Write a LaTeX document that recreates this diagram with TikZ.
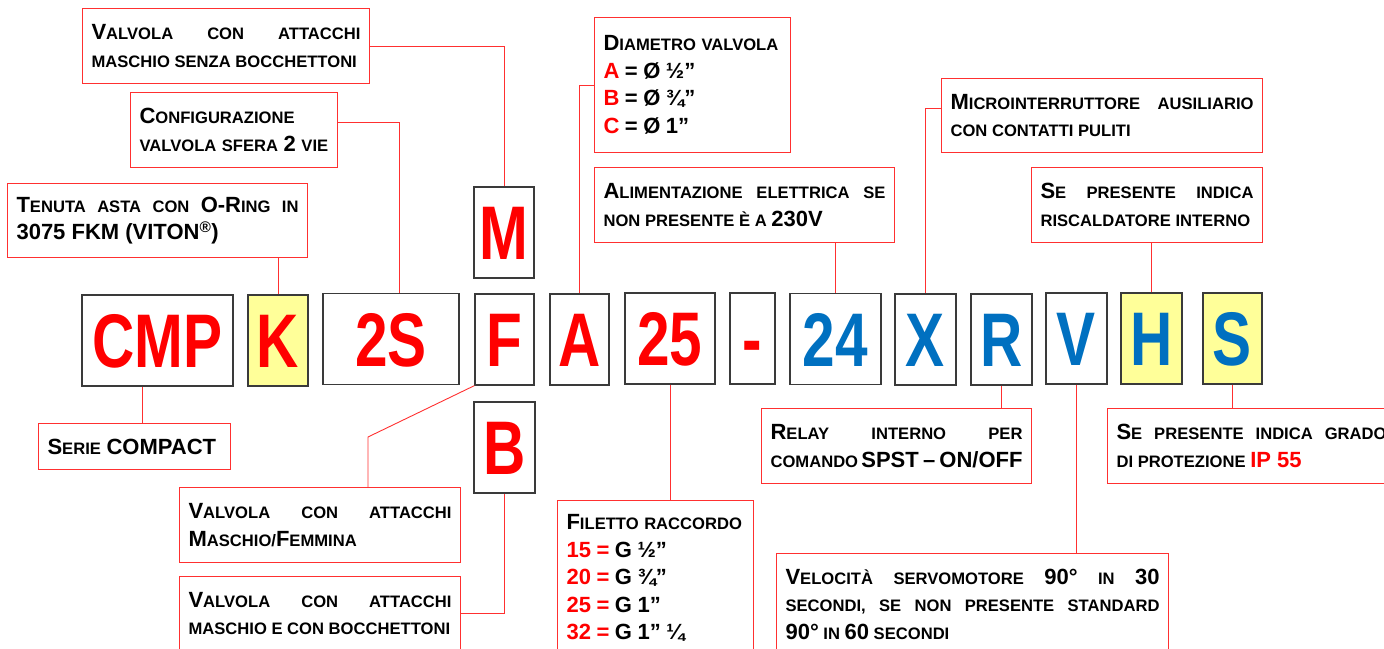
\documentclass[tikz,border=0pt]{standalone}
\usepackage{fontspec}
\setmainfont{Liberation Sans}
\newfontfamily\narrowfont[FakeStretch=0.77]{Liberation Sans}
\usetikzlibrary{calc}
\definecolor{codered}{HTML}{FF0000}
\definecolor{codeblue}{HTML}{0070C0}
\definecolor{hlyellow}{HTML}{FFFF99}
\definecolor{boxgray}{HTML}{3A3A3A}
\definecolor{notered}{HTML}{FF3030}
\newcommand{\bc}[1]{{\fontsize{22}{27.5}\selectfont #1}}
\newcommand{\rd}[1]{\textcolor{codered}{#1}}
\hyphenpenalty=10000
\exhyphenpenalty=10000

\begin{document}
\begin{tikzpicture}[
  x=1pt, y=-1pt,
  lbox/.style={draw=boxgray, line width=1.3pt, minimum width=#1,
    minimum height=91pt, inner sep=0pt, text height=54pt, text depth=0pt,
    font=\narrowfont\bfseries\fontsize{76}{76}\selectfont},
  ybox/.style={lbox=#1, fill=hlyellow},
  note/.style 2 args={draw=notered, line width=1.1pt, anchor=north west,
    inner xsep=9pt, inner ysep=0pt, text width=#1, minimum height=#2,
    align=justify, font=\bfseries\fontsize{16.6}{27.5}\selectfont},
  link/.style={draw=notered, line width=0.9pt},
]

\useasboundingbox (0,0) rectangle (1384,648);
\clip (0,0) rectangle (1384,648);

% === Code letters (main row) ===
\node[lbox=151pt, text=codered] (cmp)   at (157.5,340.5) {CMP};
\node[ybox=60pt,  text=codered] (ring)  at (278,340.5)   {K};
\node[lbox=136pt, text=codered] (conf)  at (391,339)     {2S};
\node[lbox=59pt,  text=codered] (attF)  at (504.5,339.5) {F};
\node[lbox=59pt,  text=codered] (diaA)  at (579.5,339.5) {A};
\node[lbox=90pt,  text=codered] (fil)   at (670,338.5)   {25};
\node[lbox=45pt,  text=codered] (dash)  at (752.5,338.5) {-};
\node[lbox=91pt,  text=codeblue] (volt) at (835.5,339)   {24};
\node[lbox=61pt,  text=codeblue] (micX) at (925.5,339.5) {X};
\node[lbox=61pt,  text=codeblue] (relR) at (1001.5,339.5) {R};
\node[lbox=61pt,  text=codeblue] (velV) at (1076.5,338.5) {V};
\node[ybox=61pt,  text=codeblue] (heatH) at (1151.5,338.5) {H};
\node[ybox=59pt,  text=codeblue] (ipS)  at (1232.5,338.5) {S};

% alternatives for F
\node[lbox=60pt, text=codered] (attM) at (504,232.5) {M};
\node[lbox=61pt, text=codered] (attB) at (504.5,447.5) {B};

% === Notes above ===
\node[note={269pt}{75pt}] (maschio) at (82,8)
  {\bc{V}ALVOLA CON ATTACCHI\linebreak MASCHIO SENZA BOCCHETTONI};
\node[note={189pt}{75pt}, align=left] (config) at (130,92)
  {\bc{C}ONFIGURAZIONE\\ VALVOLA SFERA \bc{2} VIE};
\node[note={282pt}{74pt}] (tenuta) at (7,183)
  {\bc{T}ENUTA ASTA CON \bc{O-R}ING IN\linebreak \bc{3075 FKM (VITON\textsuperscript{®})}};
\node[note={178pt}{135pt}, align=left] (diam) at (594,17)
  {\bc{D}IAMETRO VALVOLA\\ \bc{\rd{A} = Ø ½”}\\ \bc{\rd{B} = Ø ¾”}\\ \bc{\rd{C} = Ø 1”}};
\node[note={282pt}{75pt}] (alim) at (594,167)
  {\bc{A}LIMENTAZIONE ELETTRICA SE\linebreak NON PRESENTE È A \bc{230V}};
\node[note={303pt}{74pt}] (micro) at (941,78)
  {\bc{M}ICROINTERRUTTORE AUSILIARIO\linebreak CON CONTATTI PULITI};
\node[note={213pt}{75pt}] (risc) at (1031,167)
  {\bc{S}E PRESENTE INDICA\linebreak RISCALDATORE INTERNO};

% === Notes below ===
\node[note={174pt}{46pt}, align=left] (serie) at (38,423)
  {\bc{S}ERIE \bc{COMPACT}};
\node[note={263pt}{75pt}] (mf) at (179,487)
  {\bc{V}ALVOLA CON ATTACCHI\linebreak \bc{M}ASCHIO/\bc{F}EMMINA};
\node[note={263pt}{74pt}] (bocch) at (179,576)
  {\bc{V}ALVOLA CON ATTACCHI\linebreak MASCHIO E CON BOCCHETTONI};
\node[note={178pt}{155pt}, align=left] (filetto) at (557,500)
  {\bc{F}ILETTO RACCORDO\\ \bc{\rd{15 =} G ½”}\\ \bc{\rd{20 =} G ¾”}\\
   \bc{\rd{25 =} G 1”}\\ \bc{\rd{32 =} G 1” ¼}};
\node[note={252pt}{75pt}] (relay) at (761,408)
  {\bc{R}ELAY INTERNO PER\linebreak COMANDO \bc{SPST – ON/OFF}};
\node[note={270pt}{75pt}] (grado) at (1107,408)
  {\bc{S}E PRESENTE INDICA GRADO\linebreak DI PROTEZIONE \bc{\rd{IP 55}}};
\node[note={374pt}{101pt}] (velo) at (776,553)
  {\bc{V}ELOCITÀ SERVOMOTORE \bc{90°} IN \bc{30}\linebreak
   SECONDI, SE NON PRESENTE STANDARD\linebreak \bc{90°} IN \bc{60} SECONDI};

% === Connectors ===
\draw[link] (maschio.east) -| (attM.north);
\draw[link] ([yshift=7.5pt]config.east) -| ([xshift=8pt]conf.north);
\draw[link] (ring.north) -- (ring.north |- tenuta.south);
\draw[link] (diam.west) -| (diaA.north);
\draw[link] (volt.north) -- (volt.north |- alim.south);
\draw[link] ([yshift=7pt]micro.west) -| (micX.north);
\draw[link] (heatH.north) -- (heatH.north |- risc.south);

\draw[link] ([xshift=-15pt]cmp.south) -- ([xshift=-15pt]cmp.south |- serie.north);
\coordinate (mfbend) at (368,437);
\draw[link] (attF.south west) -- (mfbend) -- (mfbend |- mf.north);
\draw[link] (bocch.east) -| (attB.south);
\draw[link] (fil.south) -- (fil.south |- filetto.north);
\draw[link] (relR.south) -- (relR.south |- relay.north);
\draw[link] (ipS.south) -- (ipS.south |- grado.north);
\draw[link] (velV.south) -- (velV.south |- velo.north);

\end{tikzpicture}
\end{document}
